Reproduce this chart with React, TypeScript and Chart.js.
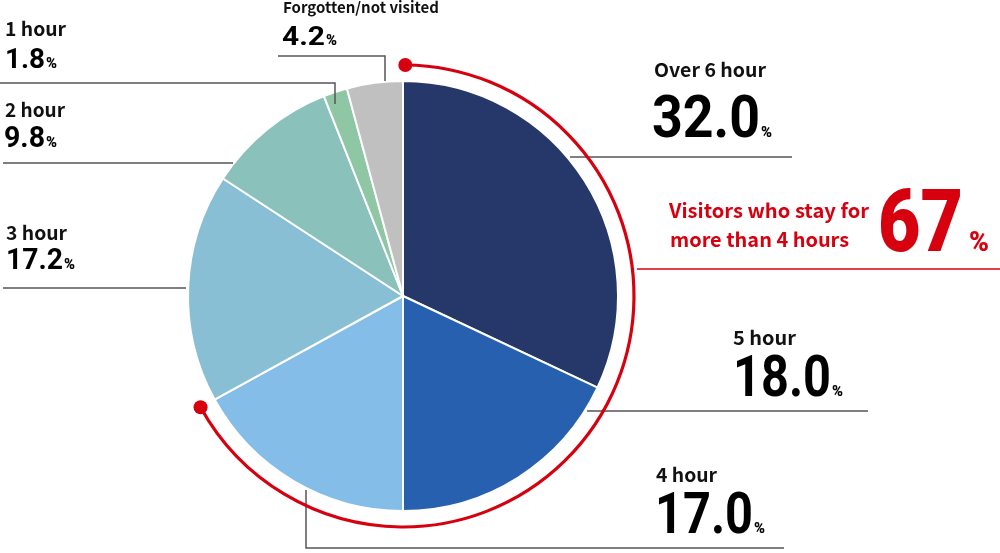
import React, { useEffect, useRef } from "react";
import { Chart, registerables } from "chart.js";

Chart.register(...registerables);

const categories = ["Over 6 hour", "5 hour", "4 hour", "3 hour", "2 hour", "1 hour", "Forgotten/not visited"];
const values = [32.0, 18.0, 17.0, 17.2, 9.8, 1.8, 4.2];
const sliceColors = ["#263869", "#2660ae", "#85bde9", "#88bfd4", "#8ac1bb", "#8fc7a4", "#c0c0c0"];
const highlightLines = ["Visitors who stay for", "more than 4 hours"];
const highlightValue = "67";
const highlightCount = 3; // first three slices (4 hours and more)

// label layout: [nameX, nameBase, nameSize, nameW, numX, numBase, numSize, numW]
const labelLayout: number[][] = [
  [654, 77, 19, 112, 652, 137, 59, 108],
  [733, 345, 19, 63, 733, 396, 58, 98],
  [656, 482, 19, 61, 655, 533, 58, 98],
  [6, 240, 19, 61, 6, 269, 30, 57],
  [5, 117, 19, 60, 4, 147, 30, 41],
  [5, 36, 19, 61, 5, 68, 28, 40],
  [283, 13, 15, 156, 282, 45, 25, 43],
];
const leaderLines: number[][][] = [
  [[570, 157], [792, 157]],
  [[587, 411], [868, 411]],
  [[306, 490], [306, 548], [784, 548]],
  [[3, 288], [186, 288]],
  [[3, 163], [233, 163]],
  [[0, 83], [335, 83], [335, 104]],
  [[278, 56], [385, 56], [385, 81]],
];

const RED = "#d7000f";
const LABEL_FONT = '"Noto Sans CJK JP", "Noto Sans", sans-serif';
const NUM_FONT = 'Roboto, "Noto Sans", sans-serif';

function drawFit(ctx: CanvasRenderingContext2D, text: string, x: number, y: number, font: string, width: number, color: string) {
  ctx.save();
  ctx.font = font;
  ctx.fillStyle = color;
  ctx.textAlign = "left";
  ctx.textBaseline = "alphabetic";
  const m = ctx.measureText(text).width;
  const s = width / m;
  ctx.translate(x, y);
  ctx.scale(s, 1);
  ctx.fillText(text, 0, 0);
  ctx.restore();
}

const overlayPlugin = {
  id: "overlay",
  afterDraw(chart: any) {
    const ctx: CanvasRenderingContext2D = chart.ctx;
    const meta = chart.getDatasetMeta(0);
    const arc0 = meta.data[0];
    const cx = arc0.x;
    const cy = arc0.y;
    const R = arc0.outerRadius;

    // leader lines
    ctx.save();
    ctx.strokeStyle = "#555555";
    ctx.lineWidth = 1.5;
    leaderLines.forEach((pts) => {
      ctx.beginPath();
      pts.forEach((p, i) => (i === 0 ? ctx.moveTo(p[0], p[1]) : ctx.lineTo(p[0], p[1])));
      ctx.stroke();
    });
    ctx.restore();

    // labels
    categories.forEach((name, i) => {
      const L = labelLayout[i];
      drawFit(ctx, name, L[0], L[1], `bold ${L[2]}px ${LABEL_FONT}`, L[3], "#111111");
      drawFit(ctx, values[i].toFixed(1), L[4], L[5], `bold ${L[6]}px ${NUM_FONT}`, L[7], "#000000");
      drawFit(ctx, "%", L[4] + L[7] + 1, L[5], `900 14px ${NUM_FONT}`, 11, "#000000");
    });

    // red arc
    const start = meta.data[0].startAngle + 0.01;
    const end = meta.data[highlightCount - 1].endAngle;
    const rr = R + 16;
    ctx.save();
    ctx.strokeStyle = RED;
    ctx.fillStyle = RED;
    ctx.lineWidth = 3.2;
    ctx.beginPath();
    ctx.arc(cx, cy, rr, start, end);
    ctx.stroke();
    [start, end].forEach((a) => {
      ctx.beginPath();
      ctx.arc(cx + rr * Math.cos(a), cy + rr * Math.sin(a), 7, 0, Math.PI * 2);
      ctx.fill();
    });
    // red underline
    ctx.lineWidth = 1.5;
    ctx.beginPath();
    ctx.moveTo(637, 269);
    ctx.lineTo(1000, 269);
    ctx.stroke();
    ctx.restore();

    drawFit(ctx, highlightLines[0], 669, 218, `bold 20px ${LABEL_FONT}`, 200, RED);
    drawFit(ctx, highlightLines[1], 670, 247, `bold 20px ${LABEL_FONT}`, 179, RED);
    drawFit(ctx, highlightValue, 878, 251, `900 88px ${NUM_FONT}`, 85, RED);
    drawFit(ctx, "%", 969, 251, `900 27px ${NUM_FONT}`, 20, RED);
  },
};

export default function App() {
  const ref = useRef<HTMLCanvasElement | null>(null);
  useEffect(() => {
    if (!ref.current) return;
    const chart = new Chart(ref.current, {
      type: "pie",
      data: {
        labels: categories,
        datasets: [
          {
            data: values,
            backgroundColor: sliceColors,
            borderColor: "#ffffff",
            borderWidth: 2,
            hoverOffset: 0,
          },
        ],
      },
      options: {
        animation: false,
        responsive: true,
        maintainAspectRatio: false,
        layout: { padding: { left: 187, right: 381, top: 80, bottom: 41 } },
        plugins: { legend: { display: false }, tooltip: { enabled: false } },
        events: [],
      },
      plugins: [overlayPlugin],
    });
    return () => chart.destroy();
  }, []);
  return (
    <div style={{ position: "absolute", left: 0, top: 0, width: 1000, height: 553, background: "#fff" }}>
      <canvas ref={ref} />
    </div>
  );
}
